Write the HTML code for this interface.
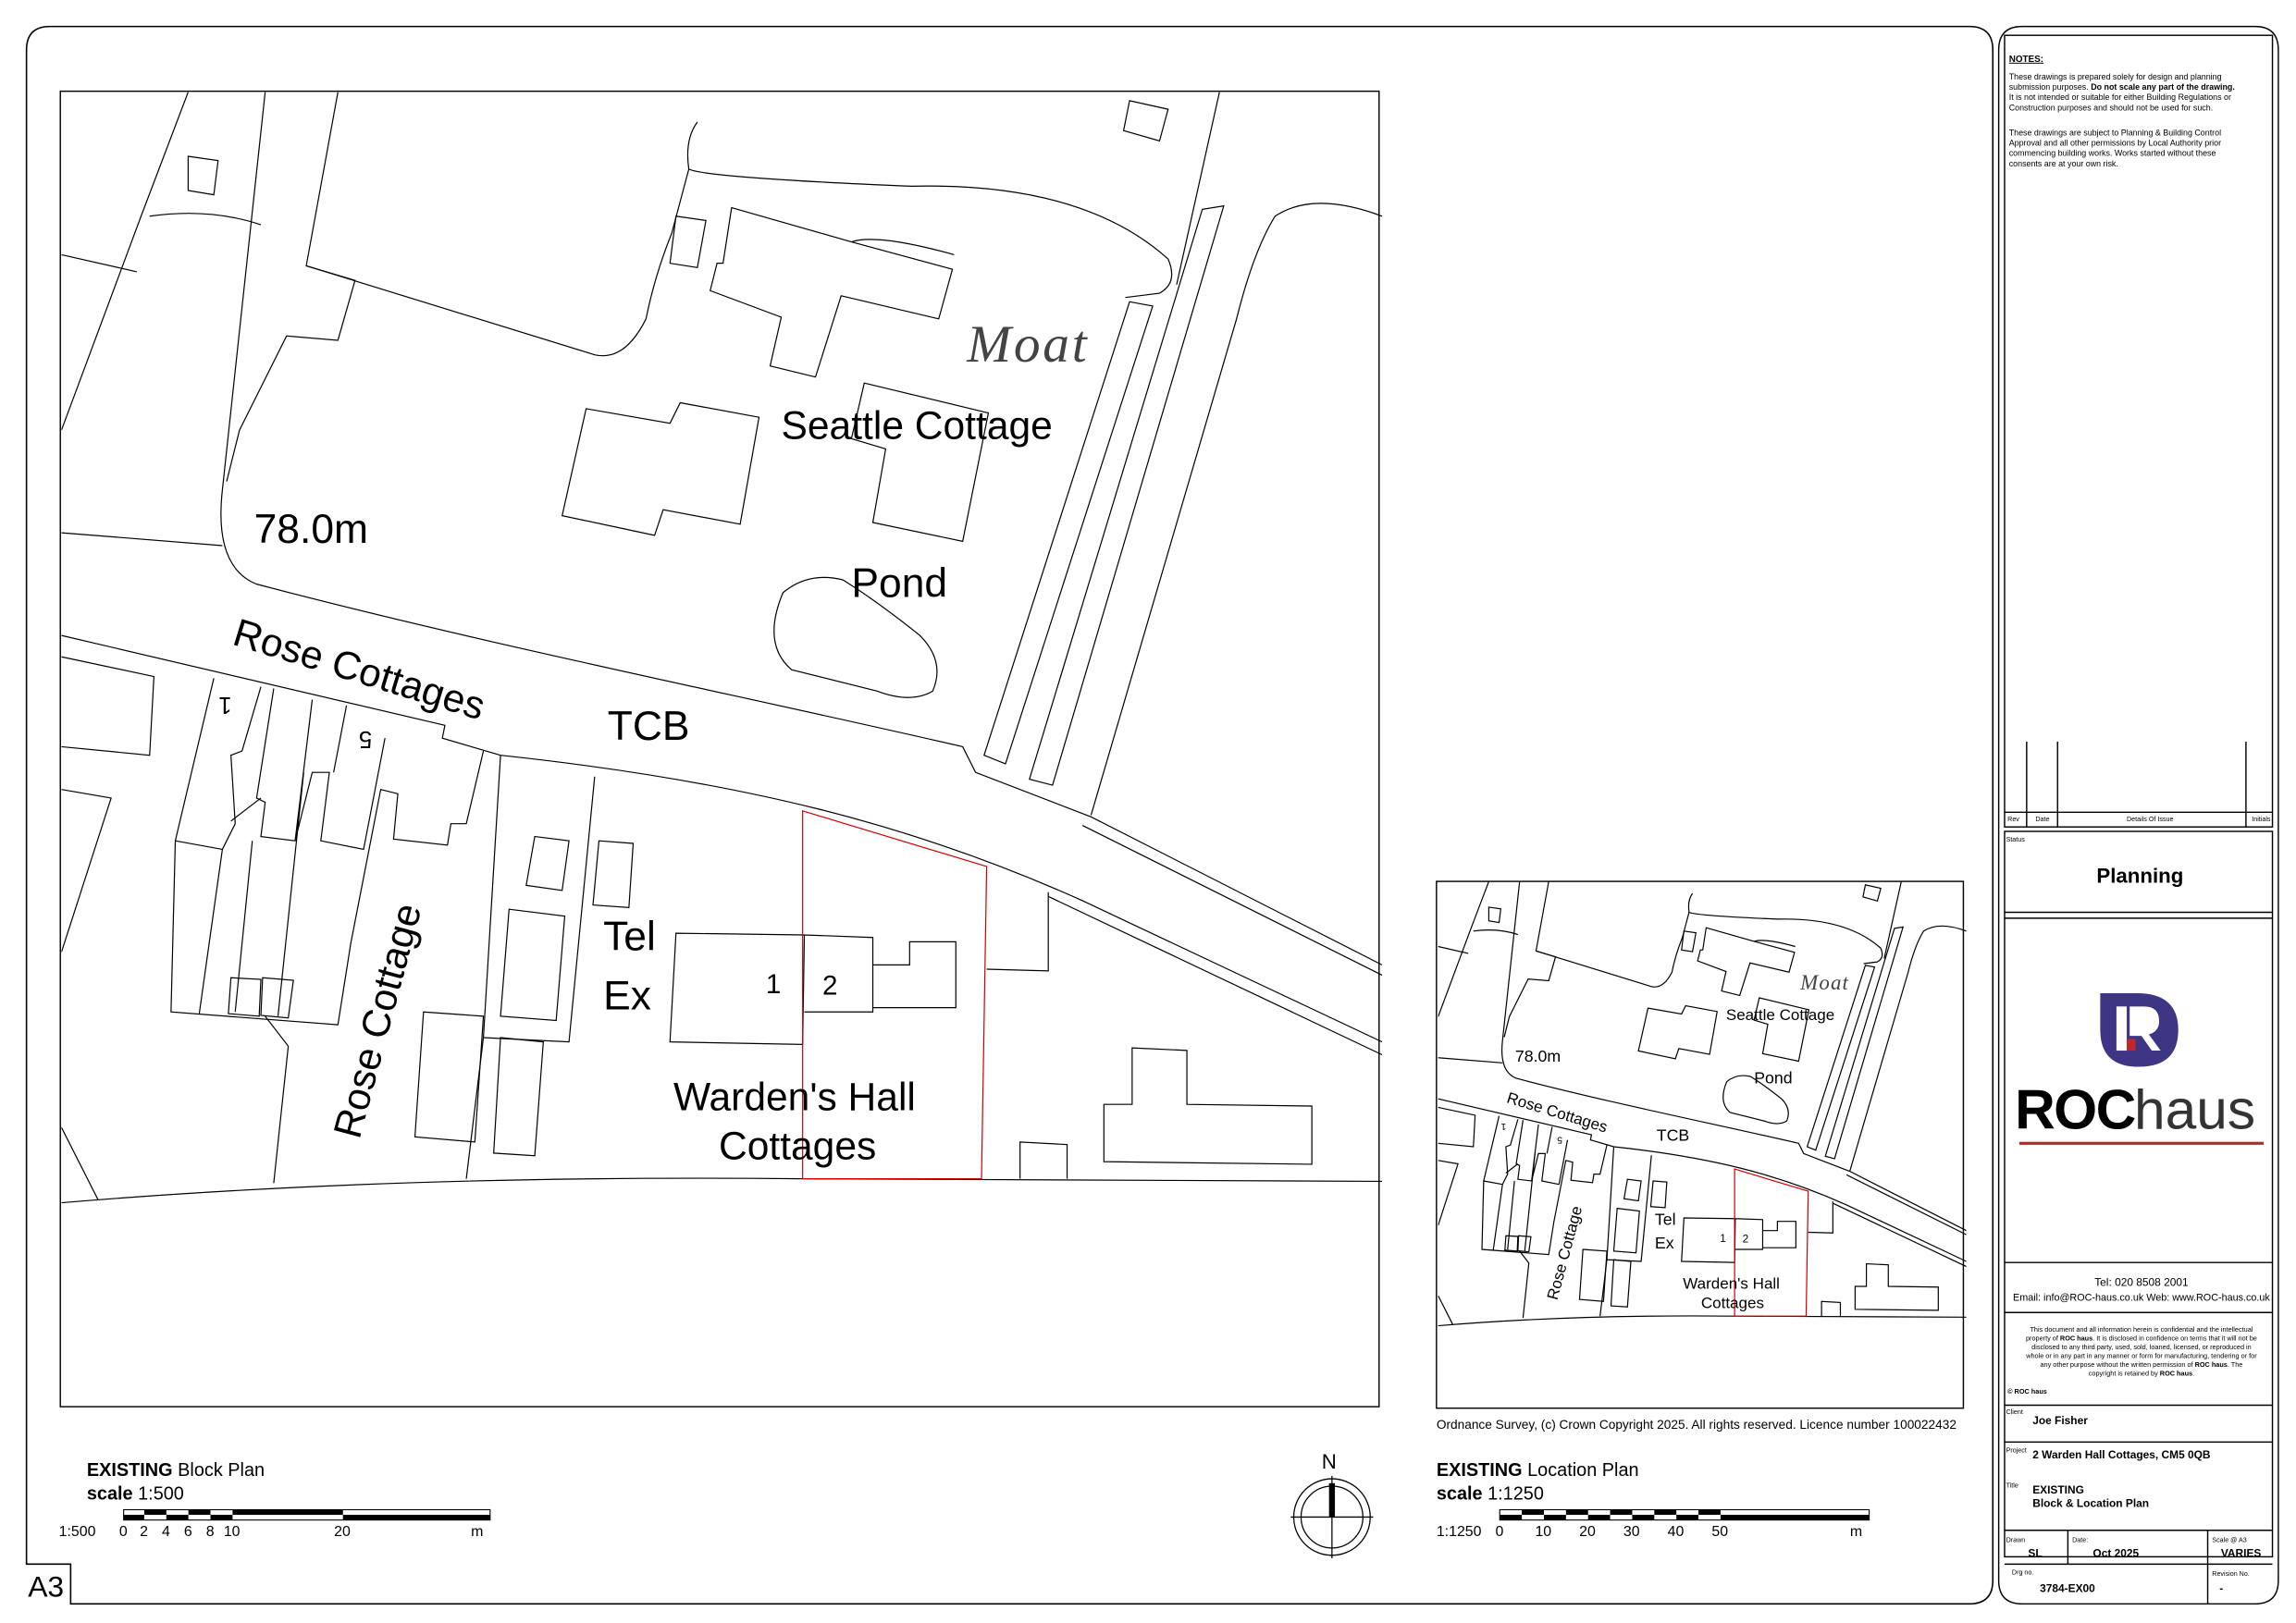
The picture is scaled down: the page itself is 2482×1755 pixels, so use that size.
<!DOCTYPE html>
<html><head><meta charset="utf-8"><style>
html,body{margin:0;padding:0;background:#fff}
svg{display:block}
text{font-family:"Liberation Sans",sans-serif;fill:#000}
</style></head><body>
<svg width="2482" height="1755" viewBox="0 0 1560 1103" preserveAspectRatio="none" xmlns="http://www.w3.org/2000/svg">
<defs>
<clipPath id="cp"><rect x="7" y="5" width="1543" height="1530"/></clipPath>
<g id="map">
<g clip-path="url(#cp)" fill="none" stroke="#000" stroke-width="1.2" vector-effect="non-scaling-stroke">
<g vector-effect="non-scaling-stroke">
<path vector-effect="non-scaling-stroke" d="M155,5 L100,150 L7,400"/>
<path vector-effect="non-scaling-stroke" d="M7,195 L95,215 M110,150 Q180,140 240,160"/>
<path vector-effect="non-scaling-stroke" d="M245,5 L195,470 Q185,560 235,580 C500,650 800,710 1060,770 L1075,800 L1210,852 L1550,1025"/>
<path vector-effect="non-scaling-stroke" d="M1550,1037 L1200,862"/>
<path vector-effect="non-scaling-stroke" d="M330,5 L293,208 L350,225 L330,295 L270,290 L215,400 L200,460"/>
<path vector-effect="non-scaling-stroke" d="M7,520 L195,535"/>
<path vector-effect="non-scaling-stroke" d="M7,640 L455,745 L452,760 L520,780 C800,810 1000,860 1200,950 L1550,1115"/>
<path vector-effect="non-scaling-stroke" d="M1550,1130 L1160,945"/>
<path vector-effect="non-scaling-stroke" d="M7,665 L115,688 L110,780 L7,770 M7,820 L65,830 L7,1010 M7,1215 L50,1300"/>
<path vector-effect="non-scaling-stroke" d="M155,80 L190,85 L185,125 L155,120 Z"/>
<path vector-effect="non-scaling-stroke" d="M1255,15 L1300,25 L1290,62 L1248,50 Z"/>
<path vector-effect="non-scaling-stroke" d="M750,40 Q735,60 740,95 Q760,105 1000,115 Q1200,110 1300,200 Q1312,228 1290,240 L1250,245"/>
<path vector-effect="non-scaling-stroke" d="M1360,5 L1310,230"/>
<path vector-effect="non-scaling-stroke" d="M740,95 L720,170 Q700,220 690,270 Q665,320 630,312 L293,208"/>
<path vector-effect="non-scaling-stroke" d="M725,150 L760,155 L750,210 L718,205 Z"/>
<path vector-effect="non-scaling-stroke" d="M790,140 L930,180 L1048,212 L1032,270 L918,243 L888,338 L835,325 L848,268 L765,237 L773,205 L780,205 Z"/>
<path vector-effect="non-scaling-stroke" d="M930,180 Q960,170 1050,195"/>
<path vector-effect="non-scaling-stroke" d="M620,375 L718,392 L730,368 L822,385 L800,510 L710,493 L700,523 L592,500 Z"/>
<path vector-effect="non-scaling-stroke" d="M945,345 L1090,380 L1060,530 L955,508 L970,422 L930,410 Z"/>
<path vector-effect="non-scaling-stroke" d="M850,590 Q880,565 920,575 Q960,600 1010,640 Q1040,670 1025,705 Q1000,720 960,705 Q900,690 860,680 Q825,650 850,590 Z"/>
<path vector-effect="non-scaling-stroke" d="M1255,250 L1282,255 L1110,790 L1085,780 Z"/>
<path vector-effect="non-scaling-stroke" d="M1340,142 L1365,138 L1165,815 L1138,808 Z"/>
<path vector-effect="non-scaling-stroke" d="M1550,150 Q1470,120 1425,150 Q1400,190 1380,270 L1210,850"/>
<path vector-effect="non-scaling-stroke" d="M185,690 L140,880 L135,1080 L330,1095 L345,1000 L380,820 L400,825 L395,878 L458,885 L462,860 L480,860 L500,775"/>
<path vector-effect="non-scaling-stroke" d="M140,880 L195,890 L168,1082 M195,890 L210,860 L205,780 L218,775 L240,700 M240,830 L205,857 M255,702 L235,830 L245,835 L240,875 L280,880 L300,800 L320,800 L310,880 L360,890 L385,760 M300,715 L280,880 M340,722 L325,800 M230,880 L210,1080 M290,800 L260,1085"/>
<path vector-effect="non-scaling-stroke" d="M205,1040 L240,1042 L238,1085 L202,1082 Z M242,1040 L278,1043 L272,1087 L240,1084 Z"/>
<path vector-effect="non-scaling-stroke" d="M245,1085 L272,1120 L255,1280"/>
<path vector-effect="non-scaling-stroke" d="M520,780 L500,1110 L480,1275 M630,805 L600,1115 L500,1110"/>
<path vector-effect="non-scaling-stroke" d="M530,960 L595,968 L585,1090 L520,1085 Z M560,875 L600,880 L592,938 L550,932 Z M635,880 L675,883 L670,958 L628,955 Z M520,1110 L570,1115 L560,1248 L512,1245 Z M430,1080 L500,1085 L490,1232 L420,1226 Z"/>
<path vector-effect="non-scaling-stroke" d="M725,988 L875,990 L873,1118 L718,1115 Z M875,990 L955,993 L955,1080 L875,1080 M955,1025 L998,1025 L998,998 L1052,998 L1052,1075 L955,1075"/>
<path vector-effect="non-scaling-stroke" d="M1088,1030 L1160,1032 L1160,940"/>
<path vector-effect="non-scaling-stroke" d="M1258,1122 L1322,1125 L1322,1188 L1468,1190 L1468,1258 L1225,1255 L1225,1188 L1258,1188 Z"/>
<path vector-effect="non-scaling-stroke" d="M1127,1275 L1127,1232 L1182,1235 L1182,1275"/>
<path vector-effect="non-scaling-stroke" d="M7,1303 Q400,1270 870,1275 L1550,1278"/>
<path vector-effect="non-scaling-stroke" stroke="#d00000" d="M873,845 L1088,910 L1082,1275 L873,1275 Z"/>
</g>
</g>
<g font-size="46">
<text x="232" y="532" font-size="48">78.0m</text>
<text x="848" y="410">Seattle Cottage</text>
<text x="1065" y="320" style="font-family:'Liberation Serif',serif;font-style:italic;font-size:62px;fill:#444;letter-spacing:3px">Moat</text>
<text x="930" y="595" font-size="48">Pond</text>
<text transform="translate(205,650) rotate(17)">Rose Cottages</text>
<text x="645" y="762" font-size="48">TCB</text>
<text transform="translate(206,712) rotate(180)" font-size="28">1</text>
<text transform="translate(370,752) rotate(180)" font-size="28">5</text>
<text transform="translate(355,1230) rotate(-75)">Rose Cottage</text>
<text x="640" y="1008" font-size="48">Tel</text>
<text x="640" y="1077" font-size="48">Ex</text>
<text x="830" y="1058" font-size="32">1</text>
<text x="896" y="1060" font-size="32">2</text>
<text x="722" y="1195">Warden's Hall</text>
<text x="775" y="1252">Cottages</text>
</g>
</g>
</defs>

<path d="M48,1090 L1338,1090 Q1354,1090 1354,1074 L1354,34 Q1354,18 1338,18 L34,18 Q18,18 18,34 L18,1063 L48,1063 Z" fill="none" stroke="#000" stroke-width="1"/>
<text x="19" y="1085" font-size="20">A3</text>

<rect x="41" y="62" width="896" height="894" fill="none" stroke="#000" stroke-width="0.9"/>
<use href="#map" transform="translate(37.7,59.7) scale(0.5815)"/>

<rect x="976" y="599" width="358" height="358" fill="none" stroke="#000" stroke-width="0.9"/>
<use href="#map" transform="translate(975.5,597.9) scale(0.2326)"/>
<text x="976" y="971" font-size="8.6">Ordnance Survey, (c) Crown Copyright 2025. All rights reserved. Licence number 100022432</text>

<text x="59" y="1003" font-size="12.5"><tspan font-weight="bold">EXISTING</tspan> Block Plan</text>
<text x="59" y="1019" font-size="12.5"><tspan font-weight="bold">scale</tspan> 1:500</text>
<rect x="84" y="1026" width="249" height="7" fill="#fff" stroke="#000" stroke-width="0.7"/>
<g fill="#000">
<rect x="98" y="1026" width="15" height="3.5"/><rect x="128" y="1026" width="15" height="3.5"/><rect x="158" y="1026" width="75" height="3.5"/>
<rect x="84" y="1029.5" width="14" height="3.5"/><rect x="113" y="1029.5" width="15" height="3.5"/><rect x="143" y="1029.5" width="15" height="3.5"/><rect x="233" y="1029.5" width="100" height="3.5"/>
</g>
<g font-size="10">
<text x="40" y="1044">1:500</text><text x="81" y="1044">0</text><text x="95" y="1044">2</text><text x="110" y="1044">4</text><text x="125" y="1044">6</text><text x="140" y="1044">8</text><text x="152" y="1044">10</text><text x="227" y="1044">20</text><text x="320" y="1044">m</text>
</g>

<text x="976" y="1003" font-size="12.5"><tspan font-weight="bold">EXISTING</tspan> Location Plan</text>
<text x="976" y="1019" font-size="12.5"><tspan font-weight="bold">scale</tspan> 1:1250</text>
<rect x="1019" y="1026" width="251" height="7" fill="#fff" stroke="#000" stroke-width="0.7"/>
<g fill="#000">
<rect x="1034" y="1026" width="15" height="3.5"/><rect x="1064" y="1026" width="15" height="3.5"/><rect x="1094" y="1026" width="15" height="3.5"/><rect x="1124" y="1026" width="15" height="3.5"/><rect x="1154" y="1026" width="15" height="3.5"/>
<rect x="1019" y="1029.5" width="15" height="3.5"/><rect x="1049" y="1029.5" width="15" height="3.5"/><rect x="1079" y="1029.5" width="15" height="3.5"/><rect x="1109" y="1029.5" width="15" height="3.5"/><rect x="1139" y="1029.5" width="15" height="3.5"/><rect x="1169" y="1029.5" width="101" height="3.5"/>
</g>
<g font-size="10">
<text x="976" y="1044">1:1250</text><text x="1016" y="1044">0</text><text x="1043" y="1044">10</text><text x="1073" y="1044">20</text><text x="1103" y="1044">30</text><text x="1133" y="1044">40</text><text x="1163" y="1044">50</text><text x="1257" y="1044">m</text>
</g>

<g stroke="#000" fill="none" stroke-width="0.8">
<circle cx="905" cy="1031" r="26"/><circle cx="905" cy="1031" r="21"/>
<line x1="877" y1="1031" x2="933" y2="1031"/><line x1="905" y1="1003" x2="905" y2="1059"/>
</g>
<rect x="903" y="1008" width="4" height="23" fill="#000"/>
<text x="898" y="998" font-size="14">N</text>

<g fill="none" stroke="#000" stroke-width="0.9">
<path d="M1374,18 L1532,18 Q1548,18 1548,34 L1548,1074 Q1548,1090 1532,1090 L1374,1090 Q1358,1090 1358,1074 L1358,34 Q1358,18 1374,18 Z"/>
<rect x="1362" y="24" width="182" height="538"/>
<line x1="1362" y1="552" x2="1544" y2="552"/>
<line x1="1377" y1="504" x2="1377" y2="562"/><line x1="1398" y1="504" x2="1398" y2="562"/><line x1="1526" y1="504" x2="1526" y2="562"/>
<rect x="1362" y="565" width="182" height="493"/>
<line x1="1362" y1="620" x2="1544" y2="620"/><line x1="1362" y1="624" x2="1544" y2="624"/>
<line x1="1362" y1="858" x2="1544" y2="858"/>
<line x1="1362" y1="892" x2="1544" y2="892"/>
<line x1="1362" y1="955" x2="1544" y2="955"/>
<line x1="1362" y1="980" x2="1544" y2="980"/>
<line x1="1362" y1="1040" x2="1544" y2="1040"/>
<line x1="1362" y1="1063" x2="1544" y2="1063"/>
<line x1="1405" y1="1040" x2="1405" y2="1063"/><line x1="1500" y1="1040" x2="1500" y2="1090"/>
</g>
<g font-size="5.6">
<text x="1365" y="42" font-weight="bold" text-decoration="underline" font-size="6.2">NOTES:</text>
<text x="1365" y="54">These drawings is prepared solely for design and planning</text>
<text x="1365" y="61">submission purposes. <tspan font-weight="bold">Do not scale any part of the drawing.</tspan></text>
<text x="1365" y="68">It is not intended or suitable for either Building Regulations or</text>
<text x="1365" y="75">Construction purposes and should not be used for such.</text>
<text x="1365" y="92">These drawings are subject to Planning &amp; Building Control</text>
<text x="1365" y="99">Approval and all other permissions by Local Authority prior</text>
<text x="1365" y="106">commencing building works. Works started without these</text>
<text x="1365" y="113">consents are at your own risk.</text>
<text x="1364" y="558" font-size="4.5">Rev</text><text x="1383" y="558" font-size="4.5">Date</text><text x="1445" y="558" font-size="4.5">Details Of Issue</text><text x="1530" y="558" font-size="4.5">Initials</text>
<text x="1363" y="572" font-size="4.5">Status</text>
<text x="1454" y="600" font-size="14" font-weight="bold" text-anchor="middle">Planning</text>
<text x="1455" y="874" font-size="7.5" text-anchor="middle">Tel: 020 8508 2001</text>
<text x="1455" y="884" font-size="6.8" text-anchor="middle">Email: info@ROC-haus.co.uk Web: www.ROC-haus.co.uk</text>
<g font-size="4.6" text-anchor="middle">
<text x="1455" y="905">This document and all information herein is confidential and the intellectual</text>
<text x="1455" y="911">property of <tspan font-weight="bold">ROC haus</tspan>. It is disclosed in confidence on terms that it will not be</text>
<text x="1455" y="917">disclosed to any third party, used, sold, loaned, licensed, or reproduced in</text>
<text x="1455" y="923">whole or in any part in any manner or form for manufacturing, tendering or for</text>
<text x="1455" y="929">any other purpose without the written permission of <tspan font-weight="bold">ROC haus</tspan>. The</text>
<text x="1455" y="935">copyright is retained by <tspan font-weight="bold">ROC haus</tspan>.</text>
</g>
<text x="1364" y="947" font-size="4.6" font-weight="bold">© ROC haus</text>
<text x="1363" y="961" font-size="4.5">Client</text><text x="1381" y="968" font-size="7.5" font-weight="bold">Joe Fisher</text>
<text x="1363" y="987" font-size="4.5">Project</text><text x="1381" y="991" font-size="7.5" font-weight="bold">2 Warden Hall Cottages, CM5 0QB</text>
<text x="1363" y="1011" font-size="4.5">Title</text><text x="1381" y="1015" font-size="7.5" font-weight="bold">EXISTING</text><text x="1381" y="1024" font-size="7.5" font-weight="bold">Block &amp; Location Plan</text>
<text x="1363" y="1048" font-size="4.5">Drawn</text><text x="1378" y="1058" font-size="7.5" font-weight="bold">SL</text>
<text x="1408" y="1048" font-size="4.5">Date:</text><text x="1422" y="1058" font-size="7.5" font-weight="bold">Oct 2025</text>
<text x="1503" y="1048" font-size="4.5">Scale @ A3</text><text x="1509" y="1058" font-size="7.5" font-weight="bold">VARIES</text>
<text x="1367" y="1070" font-size="4.5">Drg no.</text><text x="1386" y="1082" font-size="7.5" font-weight="bold">3784-EX00</text>
<text x="1503" y="1071" font-size="4.5">Revision No.</text><text x="1508" y="1082" font-size="7.5" font-weight="bold">-</text>
</g>

<path d="M1427,675 L1452,675 Q1480,675 1480,700 Q1480,725 1453,725 Q1427,725 1427,700 Z" fill="#3f3585"/>
<rect x="1438" y="684" width="7" height="30" fill="#fff"/>
<path d="M1447,684 L1457,684 Q1467,684 1467,694 Q1467,701 1460,703 L1468,714 L1462,714 L1455,704 L1447,704 Z" fill="#fff"/>
<rect x="1445" y="706" width="6" height="8" fill="#c0272d"/>
<text x="1369" y="767" font-size="38" font-weight="bold" fill="#1a1a1a" letter-spacing="-1">ROC</text>
<text x="1450" y="767" style="font-size:38px;fill:#333">haus</text>
<rect x="1372" y="776" width="166" height="2" fill="#b52a2e"/>
</svg>
</body></html>
